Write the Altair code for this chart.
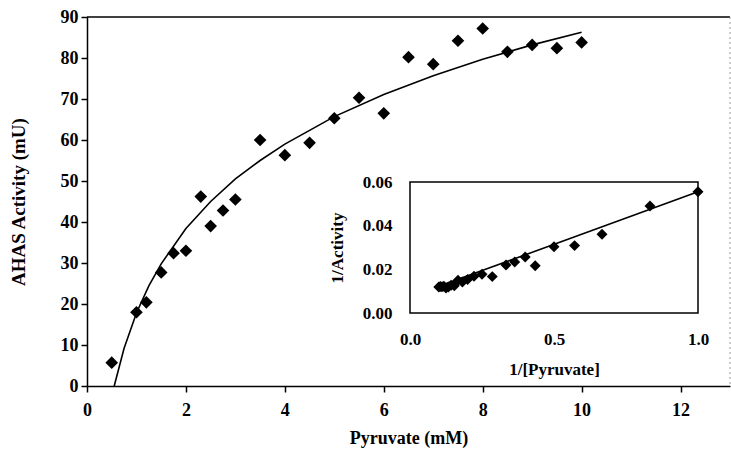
import altair as alt
import pandas as pd

# Pyruvate saturation data: substrate (mM) vs AHAS activity (mU)
pyruvate = [0.5, 1.0, 1.2, 1.5, 1.75, 2.0, 2.3, 2.5, 2.75, 3.0, 3.5, 4.0, 4.5,
            5.0, 5.5, 6.0, 6.5, 7.0, 7.5, 8.0, 8.5, 9.0, 9.5, 10.0]
activity = [5.7, 18.0, 20.4, 27.7, 32.4, 33.0, 46.2, 39.0, 42.8, 45.5, 60.0, 56.3, 59.3,
            65.3, 70.3, 66.5, 80.2, 78.5, 84.2, 87.2, 81.5, 83.2, 82.4, 83.8]

# Fitted saturation curve
fit_x = [0.55, 0.75, 1.0, 1.25, 1.5, 2.0, 2.5, 3.0, 3.5, 4.0, 5.0, 6.0, 7.0, 8.0, 9.0, 10.0]
fit_y = [0.0, 9.2, 17.8, 24.4, 29.8, 38.4, 45.0, 50.5, 55.0, 59.0, 65.7, 71.1, 75.7, 79.7, 83.2, 86.3]

# Double-reciprocal regression line
lb_x = [0.1, 1.0]
lb_y = [0.0122, 0.0555]

X_DOMAIN = [0, 13]
Y_DOMAIN = [0, 90]
INSET_X_DOMAIN = [0, 1.0]
INSET_Y_DOMAIN = [0, 0.06]

W, H = 643, 369
FONT = "Liberation Serif"

pts = pd.DataFrame({"pyruvate": pyruvate, "activity": activity})
fit = pd.DataFrame({"x": fit_x, "y": fit_y})
lb = pd.DataFrame({"x": lb_x, "y": lb_y})
frame = pd.DataFrame({"x": [INSET_X_DOMAIN[0]], "x2": [INSET_X_DOMAIN[1]],
                      "y": [INSET_Y_DOMAIN[0]], "y2": [INSET_Y_DOMAIN[1]]})

main_axis = dict(domainColor="black", domainWidth=1.5, tickColor="black", tickWidth=1.5,
                 tickSize=6, labelFont=FONT, labelFontWeight="bold", labelFontSize=18,
                 labelColor="black", labelFlush=False, titleFont=FONT,
                 titleFontWeight="bold", titleColor="black", grid=False)

xs = alt.Scale(domain=X_DOMAIN, nice=False, zero=False)
ys = alt.Scale(domain=Y_DOMAIN, nice=False)

main_points = alt.Chart(pts).mark_point(shape="diamond", filled=True, color="black",
                                        size=160, opacity=1).encode(
    x=alt.X("pyruvate:Q", scale=xs,
            axis=alt.Axis(title="Pyruvate (mM)", values=[0, 2, 4, 6, 8, 10, 12],
                          labelPadding=9, titlePadding=10, titleFontSize=18,
                          **main_axis)),
    y=alt.Y("activity:Q", scale=ys,
            axis=alt.Axis(title="AHAS Activity (mU)", values=list(range(0, 91, 10)),
                          labelPadding=3, titlePadding=32, titleFontSize=19,
                          **main_axis)),
)

main_curve = alt.Chart(fit).mark_line(color="black", strokeWidth=1.6).encode(
    x=alt.X("x:Q", scale=xs), y=alt.Y("y:Q", scale=ys)
)

top_edge = alt.Chart(pd.DataFrame({"a": [0]})).mark_rule(color="black", strokeWidth=1.5).encode(
    x=alt.value(0), x2=alt.value(W), y=alt.value(0)
)
right_edge = alt.Chart(pd.DataFrame({"a": [0]})).mark_rule(
    color="#999999", strokeWidth=1, strokeDash=[2, 3]).encode(
    x=alt.value(W), y=alt.value(0), y2=alt.value(H)
)

main = alt.layer(main_curve, main_points, top_edge, right_edge)

# Inset: Lineweaver-Burk plot
ixs = alt.Scale(domain=INSET_X_DOMAIN, range=[323, 611], nice=False, zero=False)
iys = alt.Scale(domain=INSET_Y_DOMAIN, range=[296, 165], nice=False)

inset_axis = dict(domain=False, ticks=False, grid=False, labelFont=FONT,
                  labelFontWeight="bold", labelFontSize=17, labelColor="black",
                  labelFlush=False, titleFont=FONT, titleFontWeight="bold",
                  titleFontSize=17, titleColor="black")

inset_frame = alt.Chart(frame).mark_rect(fill="white", stroke="black", strokeWidth=1.5).encode(
    x=alt.X("x:Q", scale=ixs,
            axis=alt.Axis(orient="bottom", offset=-73, title="1/[Pyruvate]",
                          values=[0, 0.5, 1.0], format=".1f", labelPadding=18,
                          titlePadding=14, **inset_axis)),
    x2="x2:Q",
    y=alt.Y("y:Q", scale=iys,
            axis=alt.Axis(orient="left", offset=-323, title="1/Activity",
                          values=[0, 0.02, 0.04, 0.06], format=".2f", labelPadding=18,
                          titlePadding=16, **inset_axis)),
    y2="y2:Q",
)

inset_points = alt.Chart(pts).transform_filter(
    alt.datum.pyruvate >= 1
).transform_calculate(
    inv_s="1 / datum.pyruvate", inv_v="1 / datum.activity"
).mark_point(shape="diamond", filled=True, color="black", size=120, opacity=1).encode(
    x=alt.X("inv_s:Q", scale=ixs), y=alt.Y("inv_v:Q", scale=iys)
)

inset_line = alt.Chart(lb).mark_line(color="black", strokeWidth=1.6).encode(
    x=alt.X("x:Q", scale=ixs), y=alt.Y("y:Q", scale=iys)
)

inset = alt.layer(inset_frame, inset_line, inset_points)

chart = alt.layer(main, inset).resolve_scale(
    x="independent", y="independent"
).properties(
    width=W, height=H,
    autosize=alt.AutoSizeParams(type="none"),
    padding={"left": 87, "top": 17, "right": 1, "bottom": 70},
    background="white",
).configure_view(stroke=None)

chart.save("out.html", embed_options={"renderer": "svg", "actions": False})
